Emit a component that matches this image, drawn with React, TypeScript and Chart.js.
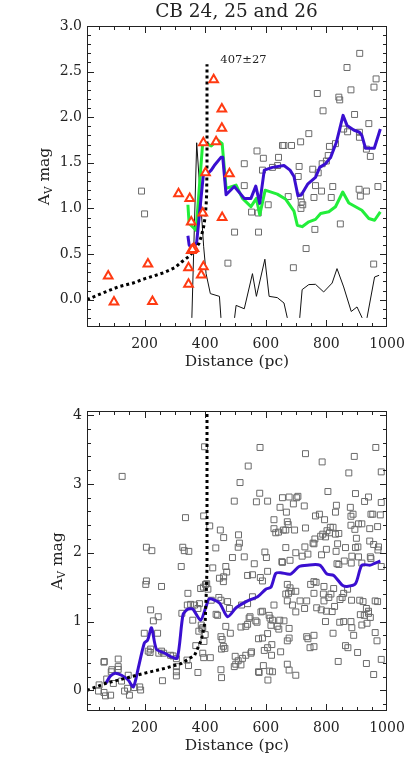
import React, { useEffect, useRef } from "react";
import { Chart, registerables } from "chart.js";

Chart.register(...registerables);

const FONT = "'DejaVu Serif', 'Liberation Serif', serif";
const INK = "#222222";

// ---------- labels ----------
const topTitle = "CB 24, 25 and 26";
const distanceNote = "407±27";
const xAxisTitle = "Distance (pc)";
const xTickValues = [200, 400, 600, 800, 1000];
const topYTickValues = [0, 0.5, 1, 1.5, 2, 2.5, 3];
const bottomYTickValues = [0, 1, 2, 3, 4];

// ---------- top panel ----------
const topFieldStars: [number, number][] = [
  [190, 1.19], [200, 0.94], [475, 0.4], [497, 0.74], [529, 1.49], [529, 1.25], [553, 0.96],
  [571, 1.63], [575, 0.95], [576, 0.74], [589, 1.42], [592, 1.55], [608, 1.04], [622, 1.45],
  [639, 1.47], [642, 1.56], [655, 1.69], [660, 1.69], [674, 1.13], [685, 1.69], [691, 0.35],
  [707, 1.35], [710, 1.46], [715, 1.73], [715, 1.135], [717, 1.07], [722, 1.04], [716, 1.0],
  [733, 0.56], [742, 1.82], [755, 1.43], [759, 1.12], [762, 0.77], [764, 1.25], [770, 2.26],
  [773, 1.39], [784, 1.19], [786, 1.49], [789, 2.07], [800, 1.52], [806, 1.58], [810, 1.68],
  [816, 1.12], [821, 1.24], [830, 1.71], [841, 2.22], [844, 2.19], [846, 0.83], [857, 1.87],
  [868, 2.545], [870, 1.84], [881, 2.3], [893, 2.03], [908, 1.21], [909, 1.78], [909, 1.835],
  [910, 2.7], [912, 1.135], [932, 1.19], [932, 1.65], [940, 1.93], [945, 1.57], [956, 0.39],
  [957, 2.33], [964, 2.42], [970, 1.24],
];

const topCloudStars: [number, number][] = [
  [80, 0.26], [99, -0.025], [211, 0.39], [226, -0.02], [312, 1.16], [349, 1.11], [354, 0.85],
  [345, 0.35], [345, 0.17], [354, 0.54], [363, 0.56], [358, 0.55], [392, 0.95], [394, 0.36],
  [387, 0.27], [401, 1.39], [394, 1.72], [436, 1.73], [428, 2.41], [455, 2.09], [455, 1.88],
  [480, 1.38], [456, 0.9],
];

const topMeanAv: [number, number][] = [
  [343, 0.7], [347, 0.6], [359, 0.54], [372, 0.63], [394, 1.37], [409, 1.385], [420, 1.42],
  [430, 1.47], [452, 1.56], [458, 1.56], [469, 1.15], [496, 1.24], [529, 1.11], [551, 1.11],
  [567, 1.245], [580, 1.055], [595, 1.42], [622, 1.45], [660, 1.47], [680, 1.42], [693, 1.35],
  [706, 1.14], [717, 1.146], [739, 1.27], [764, 1.34], [778, 1.45], [797, 1.49], [814, 1.56],
  [833, 1.725], [855, 2.02], [868, 1.91], [890, 1.86], [909, 1.835], [917, 1.8], [929, 1.66],
  [958, 1.66], [978, 1.87],
];

const topMedianAv: [number, number][] = [
  [343, 1.04], [347, 0.835], [364, 0.78], [370, 0.76], [392, 1.73], [420, 1.685], [441, 1.75],
  [456, 1.71], [469, 1.22], [502, 1.256], [523, 1.11], [551, 1.02], [569, 1.11], [580, 0.93],
  [598, 1.2], [638, 1.157], [666, 1.1], [693, 0.97], [704, 0.816], [720, 0.8], [742, 0.853],
  [764, 0.88], [781, 0.945], [808, 0.963], [830, 1.018], [854, 1.18], [874, 1.06], [917, 0.98],
  [940, 0.89], [959, 0.87], [978, 0.963],
];

const topDeltaAv: [number, number | null][] = [
  [356, -0.2], [372, 1.72], [395, 0.58], [403, 0.285], [417, 0.066], [447, 0.036], [452, -0.2],
  [475, null], [497, -0.2], [502, -0.063], [529, -0.1], [556, 0.285], [569, 0.036], [597, 0.443],
  [611, 0.036], [638, 0.022], [660, -0.037], [671, -0.2], [690, null], [712, -0.2], [720, 0.11],
  [742, 0.165], [764, 0.168], [791, 0.084], [819, 0.182], [835, 0.34], [857, 0.139], [882, -0.13],
  [901, -0.08], [918, -0.2], [926, null], [934, -0.2], [959, 0.248], [974, 0.267],
];

const topModelCurve: [number, number][] = [
  [10, 0.0], [60, 0.07], [113, 0.14], [160, 0.18], [201, 0.23], [240, 0.27], [267, 0.3],
  [300, 0.35], [321, 0.41], [345, 0.47], [365, 0.54], [380, 0.62], [387, 0.69], [395, 0.8],
  [400, 0.91], [403, 1.03], [405, 1.17], [406, 1.5], [406, 2.58],
];

// ---------- bottom panel ----------
const bottomFieldStars: [number, number][] = [
  [48, -0.01], [50, 0.08], [66, 0.41], [67, 0.42], [66, -0.03], [71, -0.08], [75, 0.165], [88, -0.07],
  [90, 0.27], [92, 0.3], [97, 0.1], [113, 0.455], [113, 0.345], [113, 0.305], [124, 0.135], [126, 3.11],
  [134, -0.01], [144, 0.03], [146, 0.22], [150, -0.07], [166, 0.04], [184, 0.05], [187, 0.005],
  [199, 0.83], [204, 1.54], [206, 1.59], [206, 2.08], [212, 0.57], [218, 0.55], [220, 0.6], [220, 1.17],
  [224, 2.03], [229, 1.01], [243, 0.83], [245, 1.07], [247, 0.54], [256, 0.57], [263, 0.54], [256, 1.51],
  [259, 0.14], [286, 0.51], [294, 0.5], [305, 0.46], [305, 0.345], [305, 0.27], [305, 0.21], [321, 1.8],
  [323, 1.12], [326, 2.08], [331, 2.03], [335, 2.51], [346, 2.02],
  [341, 1.24], [343, 1.41], [345, 0.36], [340, 0.44], [352, 1.25], [359, 1.02], [365, 1.24], [369, 0.65],
  [376, 1.19], [376, 0.26], [379, 0.86], [381, 1.26], [385, 1.48], [387, 0.95], [389, 0.89], [392, 0.91],
  [392, 0.54], [395, 0.475], [394, 1.5], [395, 2.535], [398, 3.54], [400, 0.81], [396, 0.71], [401, 1.54],
  [405, 1.55], [409, 1.47], [415, 2.39], [417, 0.475], [420, 1.31],
  [425, 1.78], [435, 2.07], [436, 1.105], [441, 1.09], [445, 1.35], [447, 1.63], [450, 2.33], [452, 1.31],
  [452, 0.78], [452, 0.3], [454, 0.185], [454, 0.6], [456, 0.74], [460, 0.64], [461, 1.65], [460, 1.58],
  [461, 2.22], [465, 0.61], [468, 0.93], [468, 1.8], [471, 1.72], [474, 1.29], [480, 1.19], [483, 0.83],
  [490, 1.93], [496, 2.75], [496, 0.345], [499, 0.495], [501, 0.38],
  [509, 0.43], [509, 2.08], [510, 2.26], [513, 2.14], [515, 3.02], [518, 0.92], [518, 0.37], [520, 1.24],
  [523, 0.465], [529, 1.94], [534, 0.93], [534, 0.51], [540, 1.26], [540, 0.96], [540, 1.67], [542, 3.26],
  [545, 1.05], [548, 1.07], [551, 0.54], [553, 0.56], [556, 1.36], [556, 1.68], [562, 1.84], [567, 1.01],
  [569, 2.74], [571, 0.99], [576, 0.75], [576, 0.27], [578, 0.26], [580, 2.865], [581, 3.53], [582, 1.64],
  [584, 1.14], [589, 1.15], [589, 1.59], [589, 0.76], [592, 0.36], [595, 0.58], [597, 2.01], [602, 1.93],
  [606, 2.75], [606, 1.73], [606, 0.825], [606, 0.62], [607, 0.15], [611, 1.09], [613, 0.28], [614, 1.05],
  [617, 0.945], [619, 0.51], [620, 0.665], [622, 1.02], [622, 0.27], [627, 1.24], [627, 2.48], [627, 2.35],
  [633, 2.29], [642, 2.3], [638, 0.93], [643, 0.89], [646, 1.02], [647, 2.66], [649, 0.56], [653, 1.87],
  [655, 1.86], [655, 2.8], [658, 2.33], [660, 1.01], [666, 2.33], [666, 1.4], [666, 2.075], [668, 2.59],
  [671, 2.45], [671, 1.54], [671, 1.3], [671, 0.72], [671, 0.38], [674, 2.41], [675, 1.41], [677, 2.81],
  [677, 0.76], [677, 0.9], [677, 0.295], [680, 1.49], [680, 1.89], [684, 1.44], [688, 1.24], [691, 2.71],
  [695, 2.33], [699, 1.44], [699, 2.0], [699, 1.14], [699, 0.22], [702, 2.8], [706, 2.82],
  [713, 1.3], [720, 1.95], [727, 2.68], [728, 1.19], [729, 2.085], [731, 2.36], [731, 3.44], [735, 1.3],
  [735, 0.78], [739, 1.98], [739, 0.75], [746, 0.62], [748, 1.54], [756, 2.14], [759, 1.58], [759, 1.41],
  [759, 2.13], [759, 0.8], [759, 0.635], [762, 2.2], [764, 2.535], [766, 1.57], [768, 1.2], [777, 2.56],
  [781, 2.24], [783, 1.17], [784, 1.97], [786, 3.32], [788, 2.27], [790, 1.4], [792, 1.51], [792, 1.3],
  [794, 2.48], [797, 2.23], [797, 1.0], [800, 1.15], [800, 2.05], [802, 2.32], [805, 2.89], [808, 1.35],
  [810, 2.29], [813, 2.37], [815, 1.4], [819, 1.145], [822, 2.37], [822, 0.83], [824, 1.48], [827, 1.22],
  [830, 2.27], [830, 2.59], [832, 2.02], [833, 2.69], [835, 1.84], [837, 2.13], [839, 0.42], [841, 2.28],
  [841, 1.83], [844, 0.99], [845, 1.32], [852, 1.35], [857, 1.41], [857, 1.0], [859, 1.88], [863, 2.075],
  [863, 0.65], [870, 1.47], [871, 0.62], [874, 3.16], [879, 2.66], [881, 1.0], [881, 2.53], [881, 2.4],
  [882, 1.85], [883, 1.31], [884, 1.95], [884, 0.91], [888, 2.56], [890, 0.8], [892, 3.4], [894, 2.34],
  [896, 2.86], [896, 2.075], [899, 2.21],
  [903, 0.55], [904, 2.085], [906, 1.94], [906, 2.42], [910, 1.31], [912, 1.1], [917, 2.42], [917, 1.85],
  [917, 0.95], [921, 1.29], [925, 1.09], [926, 2.745], [932, 1.19], [932, 0.39], [934, 0.975], [939, 1.15],
  [939, 1.12], [939, 2.81], [943, 2.35], [943, 2.17], [945, 1.06], [945, 1.94], [947, 2.56], [947, 1.915],
  [953, 2.56], [956, 2.12], [956, 0.23], [961, 1.3], [961, 0.84], [963, 3.53], [967, 0.72], [969, 1.29],
  [969, 2.38], [970, 2.04], [972, 2.085], [978, 2.55], [981, 3.175], [981, 2.73], [981, 1.8], [981, 0.45],
];

const bottomMeanAv: [number, number][] = [
  [72, 0.1], [86, 0.2], [102, 0.25], [124, 0.22], [146, 0.15], [163, 0.05], [179, 0.32], [199, 0.685],
  [210, 0.73], [223, 0.91], [239, 0.6], [267, 0.54], [286, 0.49], [308, 0.47], [327, 1.1], [343, 1.18],
  [359, 1.18], [385, 1.02], [403, 1.22], [414, 1.33], [447, 1.27], [474, 1.07], [502, 1.2], [540, 1.3],
  [573, 1.36], [600, 1.47], [617, 1.5], [633, 1.7], [649, 1.71], [682, 1.69], [710, 1.8], [737, 1.82],
  [778, 1.82], [802, 1.69], [824, 1.67], [852, 1.53], [868, 1.51], [896, 1.55], [917, 1.82], [945, 1.82],
  [961, 1.85], [978, 1.88],
];

const bottomModelCurve: [number, number][] = [
  [10, 0.0], [70, 0.1], [136, 0.175], [201, 0.25], [267, 0.32], [321, 0.39], [365, 0.51], [387, 0.73],
  [400, 1.0], [403, 1.34], [406, 1.77], [406, 4.06],
];

const pts = (a: [number, number | null][]) => a.map(([x, y]) => ({ x, y }));

type PanelOpts = {
  yMin: number;
  yMax: number;
  yTicks: number[];
  yDigits: number;
  yMinorStep: number;
  yMajorStep: number;
  yLabelX: number;
  title?: string;
  note?: { text: string; x: number; y: number };
};

const framePlugin = {
  id: "frameText",
  afterDraw(chart: any, _args: any, o: PanelOpts) {
    const { ctx, chartArea: a, scales } = chart;
    const xs = scales.x;
    const ys = scales.y;
    ctx.save();
    ctx.strokeStyle = INK;
    ctx.lineWidth = 1;
    ctx.strokeRect(a.left + 0.5, a.top + 0.5, a.right - a.left - 1, a.bottom - a.top - 1);
    ctx.beginPath();
    for (let v = 50; v < 1000; v += 50) {
      const px = Math.round(xs.getPixelForValue(v)) + 0.5;
      const len = v % 200 === 0 ? 7 : 4;
      ctx.moveTo(px, a.bottom);
      ctx.lineTo(px, a.bottom - len);
      ctx.moveTo(px, a.top);
      ctx.lineTo(px, a.top + len);
    }
    const n = Math.round((o.yMax - o.yMin) / o.yMinorStep) + 2;
    for (let i = -5; i < n; i++) {
      const v = Math.round(i * o.yMinorStep * 1000) / 1000;
      if (v <= o.yMin || v >= o.yMax) continue;
      const py = Math.round(ys.getPixelForValue(v)) + 0.5;
      const r = v / o.yMajorStep;
      const len = Math.abs(r - Math.round(r)) < 1e-6 ? 7 : 4;
      ctx.moveTo(a.left, py);
      ctx.lineTo(a.left + len, py);
      ctx.moveTo(a.right, py);
      ctx.lineTo(a.right - len, py);
    }
    ctx.stroke();

    ctx.fillStyle = INK;
    ctx.textBaseline = "middle";
    ctx.font = `14px ${FONT}`;
    ctx.textAlign = "center";
    for (const v of xTickValues) {
      ctx.fillText(String(v), xs.getPixelForValue(v), a.bottom + 17);
    }
    ctx.textAlign = "right";
    for (const v of o.yTicks) {
      ctx.fillText(v.toFixed(o.yDigits), a.left - 5, ys.getPixelForValue(v));
    }
    ctx.textAlign = "center";
    ctx.font = `15.5px ${FONT}`;
    ctx.fillText(xAxisTitle, (a.left + a.right) / 2, a.bottom + 35);

    if (o.title) {
      ctx.font = `18.5px ${FONT}`;
      ctx.fillText(o.title, (a.left + a.right) / 2 - 0.5, 12.5);
    }
    if (o.note) {
      ctx.font = `11.5px ${FONT}`;
      ctx.textAlign = "left";
      ctx.fillText(o.note.text, xs.getPixelForValue(o.note.x), ys.getPixelForValue(o.note.y));
    }

    // y axis title with subscript
    const cy = (a.top + a.bottom) / 2;
    ctx.translate(o.yLabelX, cy);
    ctx.rotate(-Math.PI / 2);
    ctx.textBaseline = "alphabetic";
    ctx.textAlign = "left";
    const big = `15.5px ${FONT}`;
    const small = `10.5px ${FONT}`;
    ctx.font = big;
    const wA = ctx.measureText("A").width;
    const wM = ctx.measureText(" mag").width;
    ctx.font = small;
    const wV = ctx.measureText("V").width;
    let x = -(wA + wV + wM) / 2;
    const base = 5.5;
    ctx.font = big;
    ctx.fillText("A", x, base);
    x += wA;
    ctx.font = small;
    ctx.fillText("V", x, base + 3);
    x += wV;
    ctx.font = big;
    ctx.fillText(" mag", x, base);
    ctx.restore();
  },
};

function makeChart(canvas: HTMLCanvasElement, datasets: any[], o: PanelOpts, padTop: number) {
  return new Chart(canvas, {
    type: "scatter",
    data: { datasets },
    plugins: [framePlugin],
    options: {
      responsive: false,
      animation: false,
      devicePixelRatio: 1,
      layout: { padding: { left: 0, right: 26, top: padTop, bottom: 0 } },
      plugins: {
        legend: { display: false },
        tooltip: { enabled: false },
        frameText: o,
      } as any,
      scales: {
        x: {
          type: "linear",
          min: 10,
          max: 1000,
          grid: { display: false, drawTicks: false },
          border: { display: false },
          ticks: { display: false },
          afterFit: (s: any) => {
            s.height = 56;
          },
        },
        y: {
          type: "linear",
          min: o.yMin,
          max: o.yMax,
          grid: { display: false, drawTicks: false },
          border: { display: false },
          ticks: { display: false },
          afterFit: (s: any) => {
            s.width = 87;
          },
        },
      },
    },
  });
}

const squareStyle = {
  showLine: false,
  pointStyle: "rect",
  pointRadius: 4.2,
  pointBorderWidth: 1,
  pointBorderColor: "#6a6a6a",
  pointBackgroundColor: "rgba(0,0,0,0)",
};

const lineStyle = (color: string, width: number) => ({
  showLine: true,
  pointRadius: 0,
  borderColor: color,
  borderWidth: width,
  backgroundColor: color,
  fill: false,
  spanGaps: false,
  borderJoinStyle: "round",
});

export default function App() {
  const topRef = useRef<HTMLCanvasElement | null>(null);
  const botRef = useRef<HTMLCanvasElement | null>(null);

  useEffect(() => {
    if (!topRef.current || !botRef.current) return;
    const top = makeChart(
      topRef.current,
      [
        {
          label: "cloud stars",
          data: pts(topCloudStars),
          showLine: false,
          pointStyle: "triangle",
          pointRadius: 5,
          pointBorderWidth: 2,
          pointBorderColor: "#ff3a12",
          pointBackgroundColor: "#ffffff",
          order: 0,
        },
        { label: "model", data: pts(topModelCurve), ...lineStyle("#000000", 3), borderDash: [3, 3], borderCapStyle: "butt", order: 1 },
        { label: "mean", data: pts(topMeanAv), ...lineStyle("#3a0fd0", 3), order: 2 },
        { label: "median", data: pts(topMedianAv), ...lineStyle("#22ee3a", 3), order: 3 },
        { label: "delta", data: pts(topDeltaAv), ...lineStyle("#111111", 1), order: 4 },
        { label: "field stars", data: pts(topFieldStars), ...squareStyle, order: 5 },
      ],
      {
        yMin: -0.3,
        yMax: 3.0,
        yTicks: topYTickValues,
        yDigits: 1,
        yMinorStep: 0.1,
        yMajorStep: 0.5,
        yLabelX: 43,
        title: topTitle,
        note: { text: distanceNote, x: 450, y: 2.63 },
      },
      26
    );
    const bottom = makeChart(
      botRef.current,
      [
        { label: "model", data: pts(bottomModelCurve), ...lineStyle("#000000", 3), borderDash: [3, 3], borderCapStyle: "butt", order: 0 },
        { label: "mean", data: pts(bottomMeanAv), ...lineStyle("#3a0fd0", 3), tension: 0.25, order: 1 },
        { label: "field stars", data: pts(bottomFieldStars), ...squareStyle, order: 2 },
      ],
      {
        yMin: -0.3,
        yMax: 4.06,
        yTicks: bottomYTickValues,
        yDigits: 0,
        yMinorStep: 0.2,
        yMajorStep: 1,
        yLabelX: 56,
      },
      28
    );
    return () => {
      top.destroy();
      bottom.destroy();
    };
  }, []);

  return (
    <div style={{ position: "absolute", left: 0, top: 0, width: 413, height: 767, background: "#fff" }}>
      <canvas ref={topRef} width={413} height={383} style={{ position: "absolute", left: 0, top: 0, width: 413, height: 383 }} />
      <canvas ref={botRef} width={413} height={384} style={{ position: "absolute", left: 0, top: 383, width: 413, height: 384 }} />
    </div>
  );
}
